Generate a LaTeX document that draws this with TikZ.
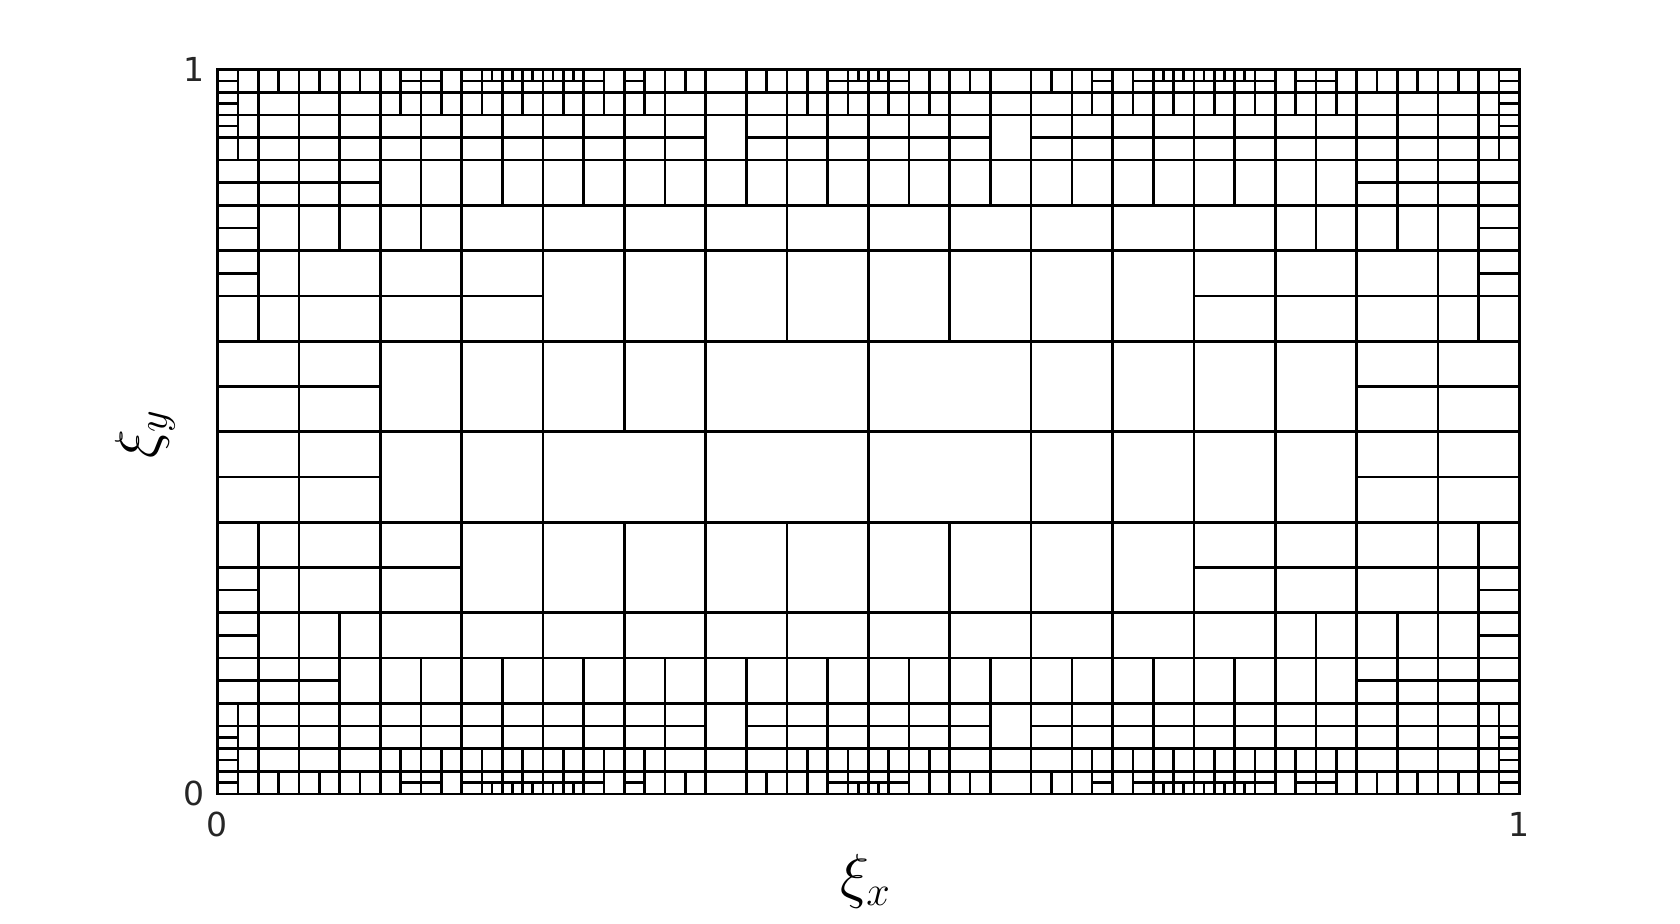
\documentclass[tikz,border=0pt]{standalone}
\usepackage{fontspec}
\newfontfamily\tickfont{DejaVu Sans}

\definecolor{tickgray}{RGB}{38,38,38}
\tikzset{
  mesh/.style={line width=0.75pt, line cap=rect},
  ticklabel/.style={font=\tickfont\fontsize{9.4}{11}\selectfont, text=tickgray, inner sep=0pt},
  axislabel/.style={font=\fontsize{17.28}{20}\selectfont, inner sep=0pt}
}

\newcommand{\halfv}[2]{\draw (#1+0.5,#2) -- ++(0,1);}
\newcommand{\halfh}[2]{\draw (#1,#2+0.5) -- ++(1,0);}
\newcommand{\quadsplit}[2]{\halfv{#1}{#2}\halfh{#1}{#2}}
\newcommand{\lefth}[2]{\halfv{#1}{#2}\draw (#1,#2+0.5) -- ++(0.5,0);}
\newcommand{\righth}[2]{\halfv{#1}{#2}\draw (#1+0.5,#2+0.5) -- ++(0.5,0);}

% fine cells of one corner of the top and bottom bands
\newcommand{\bandcorner}{%
  \draw (0,0.5) -- (8,0.5) (0,1.5) -- (6,1.5) (6.5,1.5) -- (8,1.5);
  \foreach \a/\b in {0/0.25, 2.25/2.75, 3/4, 4/4.75, 5/5.25, 7.5/8}
    {\draw (\a,0.25) -- (\b,0.25);}
  \draw (0,0.75) -- (0.25,0.75) (0,1.25) -- (0.25,1.25);
  \foreach \x in {0.25,0.5,1.5,2.5,3.5,4.5,5.5,6.5,7.5}
    {\draw (\x,0) -- (\x,2);}
  \foreach \x in {2.25,2.75,3.25,3.75,4.25,4.75,5.25,7.25,7.75}
    {\draw (\x,0) -- (\x,1);}
  \foreach \x in {0.75,1.25,1.75,5.75,6.75}
    {\draw (\x,0) -- (\x,0.5);}
  \foreach \x in {3.375,3.625,3.875,4.125,4.375,7.875}
    {\draw (\x,0) -- (\x,0.25);}
}

\begin{document}
\begin{tikzpicture}
  \useasboundingbox (0,0) rectangle (16.8,9.24);
  \begin{scope}[shift={(2.175,8.544)}, x=0.81363cm, y=-0.45269cm, mesh]
    \foreach \y in {0,1,2,3,4,12,13,14,15,16}
      {\draw (0,\y) -- (16,\y);}
    \foreach \x in {0,...,16}
      {\draw (\x,0) -- (\x,4) (\x,12) -- (\x,16);}
    % middle rows
    \foreach \y in {4,5}
      \foreach \x in {0,1,2,3,12,13,14,15}
        {\draw (\x,\y) rectangle ++(1,1);}
    \foreach \y in {6,...,9}
      \foreach \x in {0,1,14,15}
        {\draw (\x,\y) rectangle ++(1,1);}
    \foreach \y in {10,11}
      \foreach \x in {0,1,2,12,13,14,15}
        {\draw (\x,\y) rectangle ++(1,1);}
    \foreach \x in {4,...,11}
      {\draw (\x,4) rectangle ++(1,2);}
    \foreach \x in {2,3,4,5,10,11,12,13}
      {\draw (\x,6) rectangle ++(1,2);}
    \foreach \x in {2,3,10,11,12,13}
      {\draw (\x,8) rectangle ++(1,2);}
    \foreach \x in {3,...,11}
      {\draw (\x,10) rectangle ++(1,2);}
    \foreach \x/\y in {6/6,8/6,4/8,6/8,8/8}
      {\draw (\x,\y) rectangle ++(2,2);}
    % split blocks
    \foreach \x in {0,1,14,15} {\quadsplit{\x}{2}}
    \foreach \x in {2,...,13} {\halfv{\x}{2}}
    \lefth{0}{3} \righth{15}{3}
    \foreach \x in {1,2,13,14} {\halfv{\x}{3}}
    \lefth{0}{4} \righth{15}{4}
    \halfv{0}{5} \halfv{15}{5}
    \halfv{0}{10} \halfv{15}{10}
    \lefth{0}{11} \righth{15}{11}
    \lefth{0}{12} \righth{15}{12}
    \foreach \x in {1,13,14} {\halfv{\x}{12}}
    \foreach \x in {0,14,15} {\quadsplit{\x}{13}}
    \lefth{1}{13}
    \foreach \x in {2,...,13} {\halfv{\x}{13}}
    % bands
    \bandcorner
    \begin{scope}[shift={(16,0)}, xscale=-1] \bandcorner \end{scope}
    \begin{scope}[shift={(0,16)}, yscale=-1] \bandcorner \end{scope}
    \begin{scope}[shift={(16,16)}, scale=-1] \bandcorner \end{scope}
  \end{scope}

  \node[ticklabel, anchor=east] (ytop) at (2.05,8.544) {1};
  \node[ticklabel, anchor=east] (ybot) at (2.05,1.301) {0};
  \node[ticklabel] (xleft) at (2.175,1.00) {0};
  \node[ticklabel] (xright) at (15.193,1.00) {1};
  \node[axislabel] (xlabel) at (8.66,0.43) {$\xi_x$};
  \node[axislabel, rotate=90] (ylabel) at (1.45,4.90) {$\xi_y$};
\end{tikzpicture}
\end{document}
